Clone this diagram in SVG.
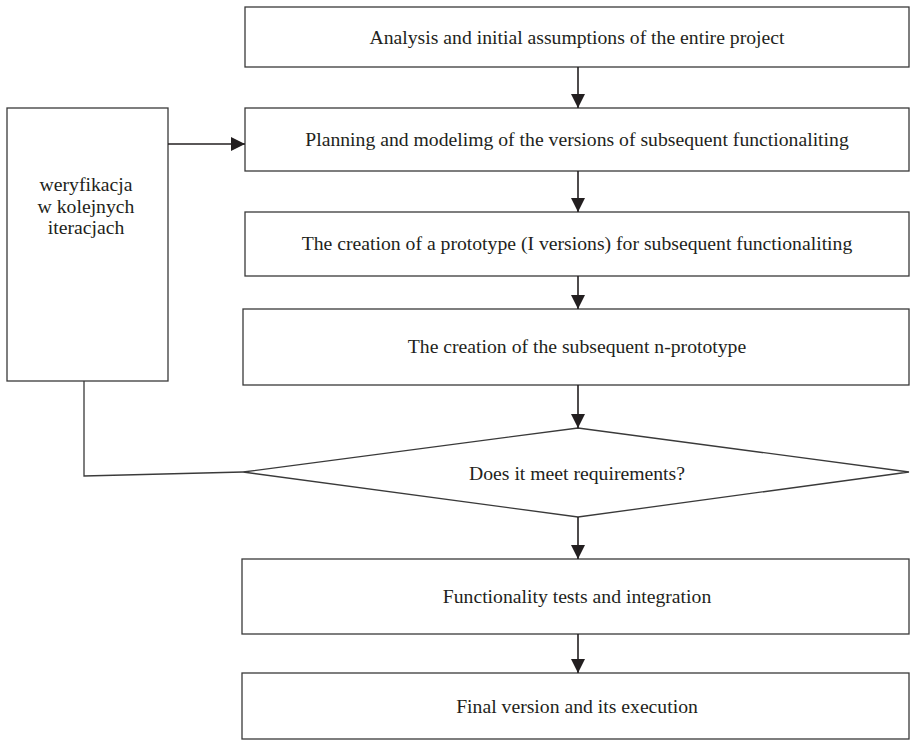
<svg xmlns="http://www.w3.org/2000/svg" width="910" height="740" viewBox="0 0 910 740">
  <defs>
    <marker id="arrow" viewBox="0 0 14 16" refX="14" refY="7" markerWidth="14" markerHeight="16" markerUnits="userSpaceOnUse" orient="auto">
      <path d="M0,0 L14,7 L0,14 Z" fill="#231f20"/>
    </marker>
    <style>
      .box { fill: #ffffff; stroke: #3a3a3a; stroke-width: 1.3; }
      .lbl { font-family: "Liberation Serif", "Times New Roman", serif; font-size: 19.7px; fill: #231f20; text-anchor: middle; }
      .edge { fill: none; stroke: #231f20; stroke-width: 1.6; }
      .plain { fill: none; stroke: #3a3a3a; stroke-width: 1.3; }
    </style>
  </defs>
  <rect width="910" height="740" fill="#ffffff"/>

  <g id="analysis">
    <rect class="box" x="245" y="7" width="664" height="60"/>
    <text class="lbl" x="577" y="44">Analysis and initial assumptions of the entire project</text>
  </g>
  <g id="planning">
    <rect class="box" x="245" y="108" width="664" height="63"/>
    <text class="lbl" x="577" y="146">Planning and modelimg of the versions of subsequent functionaliting</text>
  </g>
  <g id="prototype">
    <rect class="box" x="245" y="212" width="664" height="64"/>
    <text class="lbl" x="577" y="250">The creation of a prototype (I versions) for subsequent functionaliting</text>
  </g>
  <g id="n-prototype">
    <rect class="box" x="243" y="309" width="666" height="76"/>
    <text class="lbl" x="577" y="353">The creation of the subsequent n-prototype</text>
  </g>
  <g id="verification">
    <rect class="box" x="7" y="108" width="161" height="273"/>
    <text class="lbl" x="86" y="191">weryfikacja</text>
    <text class="lbl" x="86" y="213">w kolejnych</text>
    <text class="lbl" x="86" y="234">iteracjach</text>
  </g>
  <g id="decision">
    <polygon class="box" points="243,472 578,428 909,472 578,517"/>
    <text class="lbl" x="577" y="480">Does it meet requirements?</text>
  </g>
  <g id="tests">
    <rect class="box" x="242" y="559" width="667" height="75"/>
    <text class="lbl" x="577" y="603">Functionality tests and integration</text>
  </g>
  <g id="final">
    <rect class="box" x="242" y="673" width="667" height="66"/>
    <text class="lbl" x="577" y="713">Final version and its execution</text>
  </g>

  <g id="connectors">
    <line class="edge" x1="578" y1="67" x2="578" y2="108" marker-end="url(#arrow)"/>
    <line class="edge" x1="578" y1="171" x2="578" y2="212" marker-end="url(#arrow)"/>
    <line class="edge" x1="578" y1="276" x2="578" y2="309" marker-end="url(#arrow)"/>
    <line class="edge" x1="578" y1="385" x2="578" y2="428" marker-end="url(#arrow)"/>
    <line class="edge" x1="578" y1="517" x2="578" y2="559" marker-end="url(#arrow)"/>
    <line class="edge" x1="578" y1="634" x2="578" y2="673" marker-end="url(#arrow)"/>
    <line class="edge" x1="168" y1="144" x2="245" y2="144" marker-end="url(#arrow)"/>
    <polyline class="plain" points="84,381 84,476 243,472"/>
  </g>
</svg>
